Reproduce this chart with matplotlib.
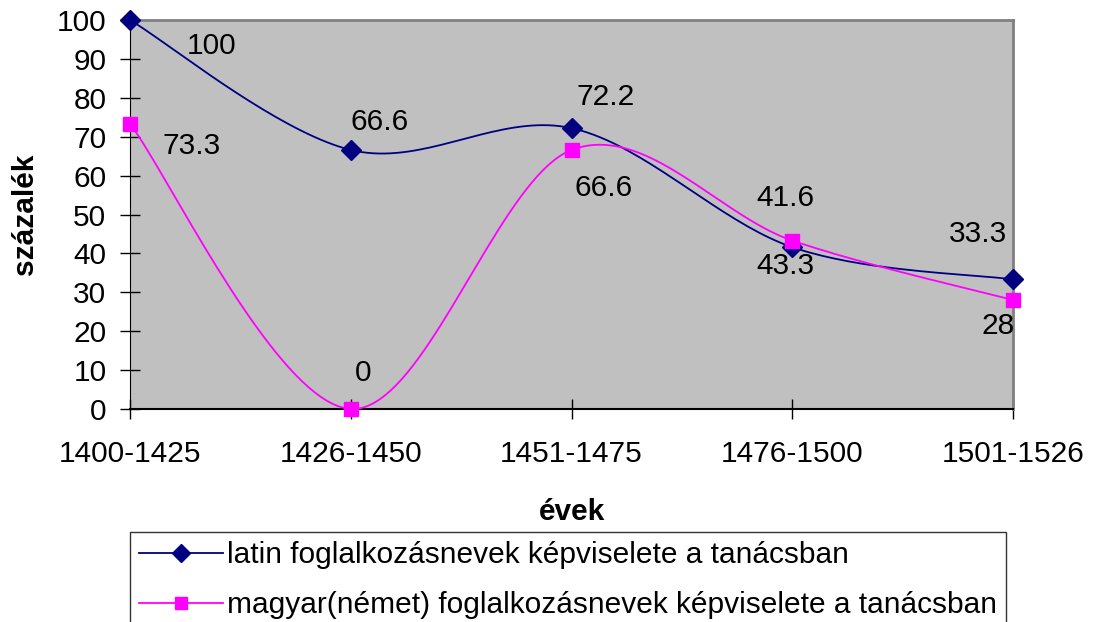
import numpy as np
import matplotlib.pyplot as plt

plt.rcParams['font.family'] = ['Liberation Sans', 'DejaVu Sans']

periods = ["1400-1425", "1426-1450", "1451-1475", "1476-1500", "1501-1526"]
latin = [100, 66.6, 72.2, 41.6, 33.3]
magyar = [73.3, 0, 66.6, 43.3, 28]
latin_label = "latin foglalkozásnevek képviselete a tanácsban"
magyar_label = "magyar(német) foglalkozásnevek képviselete a tanácsban"

# where excel put the data labels, pixel offsets from each point
latin_offsets = [(82, -26), (29, 28), (34, 31), (-7, 49), (-35, 45)]
magyar_offsets = [(62, -22), (12, 36), (32, -38), (-7, -25), (-15, -26)]


def smooth(xs, ys, steps=40):
    # excel style smoothed line (catmull-rom as cubic bezier)
    pts = np.column_stack([xs, ys]).astype(float)
    n = len(pts)
    out = [pts[0]]
    for i in range(n - 1):
        p0 = pts[max(i - 1, 0)]
        p1 = pts[i]
        p2 = pts[i + 1]
        p3 = pts[min(i + 2, n - 1)]
        c1 = p1 + (p2 - p0) / 6
        c2 = p2 - (p3 - p1) / 6
        t = np.linspace(0, 1, steps)[1:, None]
        seg = ((1 - t) ** 3 * p1 + 3 * (1 - t) ** 2 * t * c1
               + 3 * (1 - t) * t ** 2 * c2 + t ** 3 * p2)
        out.extend(seg)
    out = np.array(out)
    return out[:, 0], out[:, 1]


fig = plt.figure(figsize=(10.93, 6.22), dpi=100)
ax = fig.add_axes([130 / 1093, 1 - 409 / 622, 883 / 1093, 389 / 622])
ax.set_facecolor("#C0C0C0")

x = np.arange(len(periods))
fs = 21.5

sx, sy = smooth(x, latin)
ax.plot(sx, sy, color="#000080", lw=1.3, zorder=3, clip_on=False)
ax.plot(x, latin, ls="none", marker="D", ms=10, color="#000080", zorder=4,
        clip_on=False)
sx, sy = smooth(x, magyar)
ax.plot(sx, sy, color="#FF00FF", lw=1.3, zorder=3)
ax.plot(x, magyar, ls="none", marker="s", ms=10, color="#FF00FF", zorder=4,
        clip_on=False)

for xi, v, off in zip(x, latin, latin_offsets):
    ax.annotate(f"{v:g}", (xi, v), xytext=off, textcoords="offset pixels",
                ha="center", va="center", fontsize=fs)
for xi, v, off in zip(x, magyar, magyar_offsets):
    ax.annotate(f"{v:g}", (xi, v), xytext=off, textcoords="offset pixels",
                ha="center", va="center", fontsize=fs)

ax.set_xlim(0, len(periods) - 1)
ax.set_ylim(0, 100)
ax.set_yticks(np.arange(0, 101, 10))
ax.set_xticks(x)
ax.set_xticklabels(periods)
ax.tick_params(axis="both", direction="inout", length=14, width=1,
               labelsize=fs)
ax.tick_params(axis="x", pad=15)
ax.tick_params(axis="y", pad=10)

for side in ["top", "right"]:
    ax.spines[side].set_color("#808080")
    ax.spines[side].set_linewidth(2)
ax.spines["left"].set_color("black")
ax.spines["bottom"].set_color("black")
ax.spines["bottom"].set_linewidth(1.5)

ax.set_xlabel("évek", fontsize=fs, fontweight="bold", labelpad=22)
ax.set_ylabel("százalék", fontsize=fs, fontweight="bold", labelpad=13)

h1, = ax.plot([], [], color="#000080", marker="D", ms=9, lw=1.3)
h2, = ax.plot([], [], color="#FF00FF", marker="s", ms=9, lw=1.3)
leg = fig.legend([h1, h2], [latin_label, magyar_label], loc="upper left",
                 bbox_to_anchor=(130 / 1093, 1 - 532 / 622), fontsize=fs,
                 frameon=True, fancybox=False, edgecolor="black",
                 handlelength=2.8, handletextpad=0.15, borderpad=0.3,
                 labelspacing=0.75, borderaxespad=0)
leg.get_frame().set_linewidth(1.0)

fig.savefig("out.png", dpi=100)
